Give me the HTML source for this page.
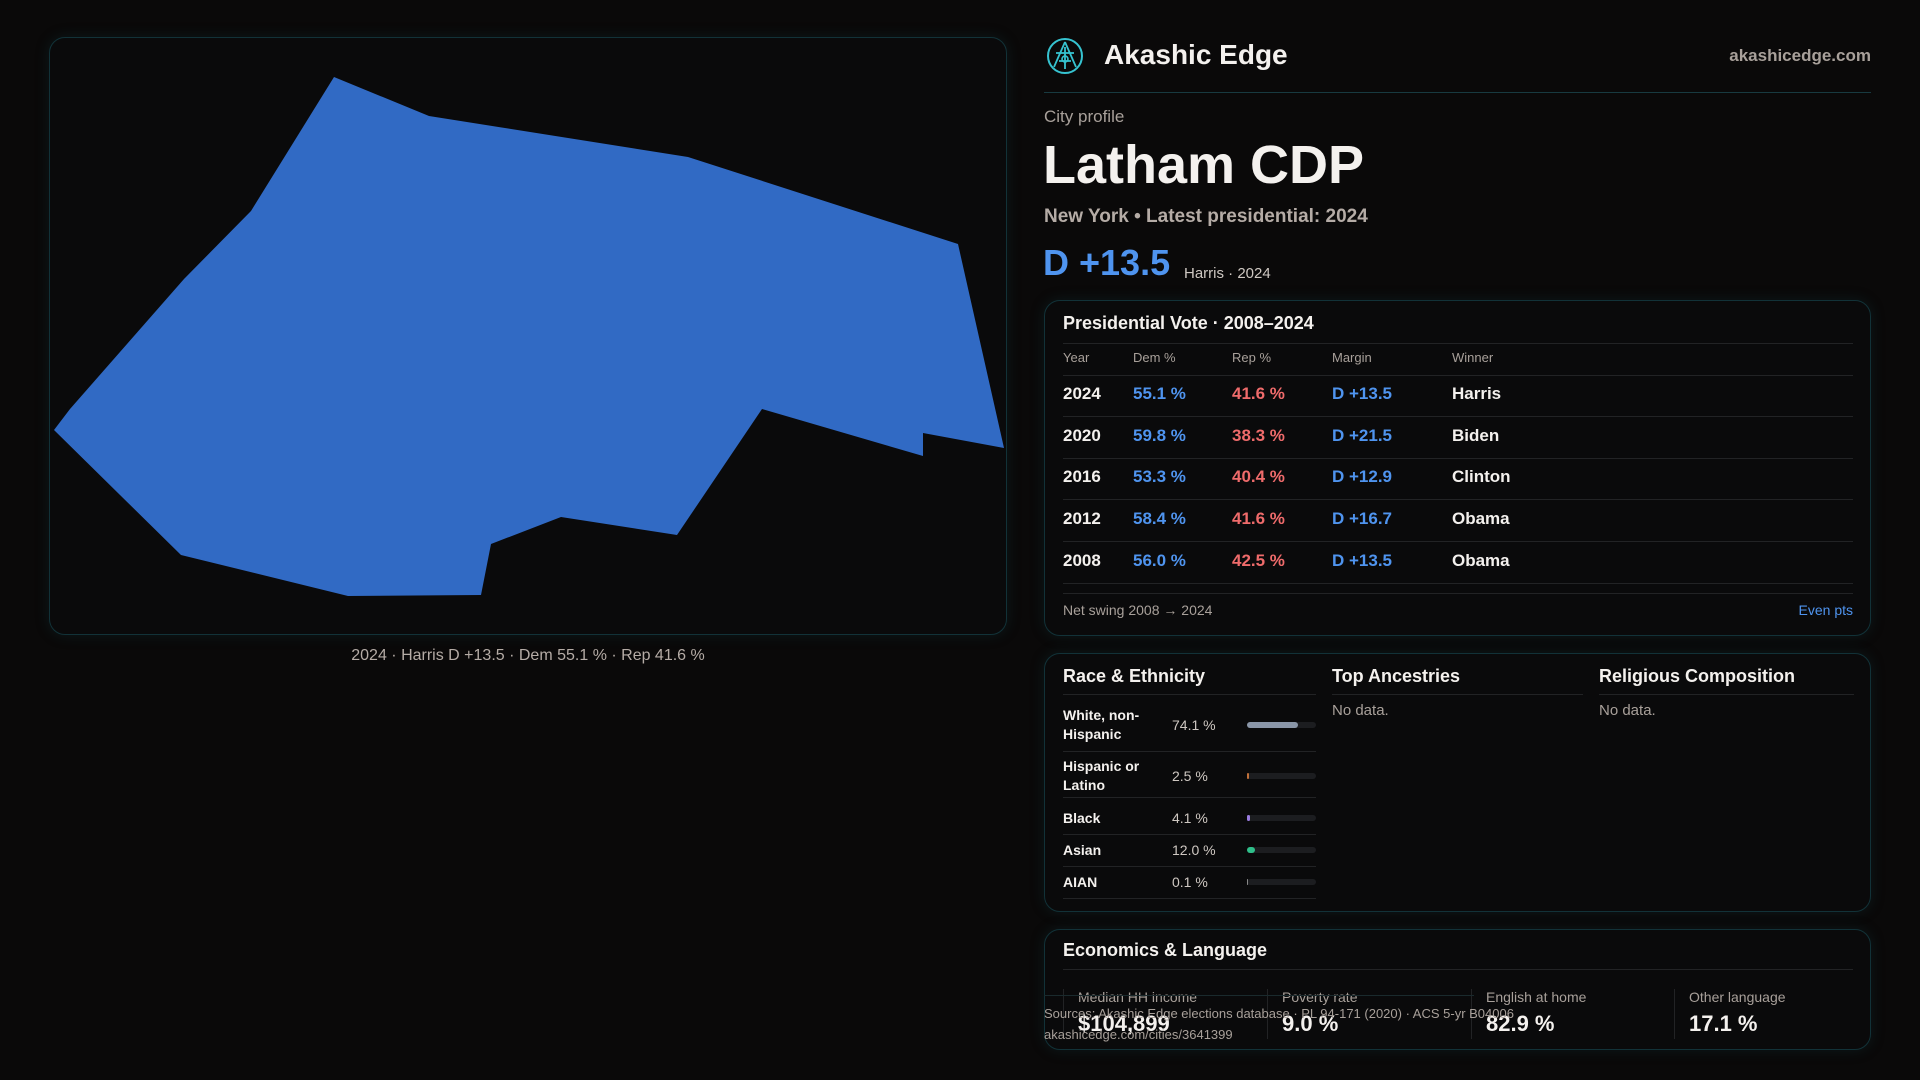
<!DOCTYPE html>
<html><head><meta charset="utf-8"><style>
*{margin:0;padding:0;box-sizing:border-box}
body{width:1920px;height:1080px;background:#0a0909;font-family:"Liberation Sans",sans-serif;color:#f4f1ee;position:relative;overflow:hidden}
.abs{position:absolute;white-space:nowrap}
.card{position:absolute;border:1.5px solid #123238;border-radius:16px;background:#0a0a0b;box-shadow:0 0 14px rgba(20,70,80,0.25)}
.grey{color:#a8a09a}
.line{position:absolute;height:1px;background:#222325}
.blue{color:#4f94ef}.red{color:#ef6b6b}
</style></head><body>
<div class="card" style="left:49px;top:37px;width:958px;height:598px">
<svg width="958" height="598" style="position:absolute;left:-1px;top:-1px">
<polygon fill="#316ac4" points="285,40 380,79 639,120 909,207 955,411 874,396 874,419 713,372 628,498 512,480 442,507 432,558 299,559 132,518 5,393 21,372 135,242 202,174"/>
</svg></div>
<div class="abs grey" style="left:0;width:1056px;text-align:center;top:647px;font-size:16px;color:#b5aca6">2024 · Harris D +13.5 · Dem 55.1 % · Rep 41.6 %</div>

<svg class="abs" style="left:1046px;top:37px" width="38" height="38" viewBox="0 0 38 38"><circle cx="19" cy="19" r="17" fill="none" stroke="#36c3d0" stroke-width="2"/><path d="M19 5 L8 30 M19 5 L30 30 M19 10 V32 M10 16 H28 M13 24 L25 24" stroke="#36c3d0" stroke-width="1.8" fill="none"/><circle cx="19" cy="22" r="3" fill="none" stroke="#36c3d0" stroke-width="1.6"/></svg>
<div class="abs" style="left:1104px;top:39px;font-size:28px;font-weight:bold">Akashic Edge</div>
<div class="abs grey" style="right:49px;top:46px;font-size:17px;font-weight:bold">akashicedge.com</div>
<div class="line" style="left:1044px;width:827px;top:92px;background:#183a40"></div>
<div class="abs grey" style="left:1044px;top:107px;font-size:17px">City profile</div>
<div class="abs" style="left:1043px;top:134px;font-size:54px;font-weight:bold">Latham CDP</div>
<div class="abs" style="left:1044px;top:206px;font-size:19px;color:#b5aca6;font-weight:bold">New York • Latest presidential: 2024</div>
<div class="abs blue" style="left:1043px;top:242px;font-size:36px;font-weight:bold">D +13.5</div>
<div class="abs" style="left:1184px;top:265px;font-size:15px;color:#cfc8c2">Harris · 2024</div>

<div class="card" style="left:1044px;top:300px;width:827px;height:336px"></div>
<div class="abs" style="left:1063px;top:313px;font-size:18px;font-weight:bold">Presidential Vote · 2008–2024</div>
<div class="line" style="left:1063px;width:790px;top:343px"></div>
<div id="vote"></div>
<div class="abs grey" style="left:1063px;top:602px;font-size:14px">Net swing 2008 → 2024</div>
<div class="abs blue" style="right:67px;top:602px;font-size:14px">Even pts</div>

<div class="card" style="left:1044px;top:653px;width:827px;height:259px"></div>
<div class="abs" style="left:1063px;top:666px;font-size:18px;font-weight:bold">Race &amp; Ethnicity</div>
<div class="line" style="left:1063px;width:253px;top:694px"></div>
<div class="abs" style="left:1332px;top:666px;font-size:18px;font-weight:bold">Top Ancestries</div>
<div class="line" style="left:1332px;width:251px;top:694px"></div>
<div class="abs grey" style="left:1332px;top:702px;font-size:15px">No data.</div>
<div class="abs" style="left:1599px;top:666px;font-size:18px;font-weight:bold">Religious Composition</div>
<div class="line" style="left:1599px;width:255px;top:694px"></div>
<div class="abs grey" style="left:1599px;top:702px;font-size:15px">No data.</div>
<div id="race"></div>

<div class="card" style="left:1044px;top:929px;width:827px;height:121px"></div>
<div class="abs" style="left:1063px;top:940px;font-size:18px;font-weight:bold">Economics &amp; Language</div>
<div class="line" style="left:1063px;width:790px;top:969px"></div>
<div id="econ"></div>
<div class="line" style="left:1044px;width:430px;top:995px;background:#1a2a2d"></div>
<div class="abs grey" style="left:1044px;top:1006px;font-size:13px">Sources: Akashic Edge elections database · PL 94-171 (2020) · ACS 5-yr B04006</div>
<div class="abs grey" style="left:1044px;top:1027px;font-size:13px">akashicedge.com/cities/3641399</div>

<script>
const years=["2024","2020","2016","2012","2008"];
const demPct=[55.1,59.8,53.3,58.4,56.0];
const repPct=[41.6,38.3,40.4,41.6,42.5];
const margins=["D +13.5","D +21.5","D +12.9","D +16.7","D +13.5"];
const winners=["Harris","Biden","Clinton","Obama","Obama"];
const raceLabels=["White, non-Hispanic","Hispanic or Latino","Black","Asian","AIAN"];
const raceValues=[74.1,2.5,4.1,12.0,0.1];
const raceColors=["#8a96a8","#c0703a","#9a7ce0","#2fbf8a","#888"];
const econLabels=["Median HH income","Poverty rate","English at home","Other language"];
const econValues=["$104,899","9.0 %","82.9 %","17.1 %"];

function mk(parent,cls,style,text){const d=document.createElement('div');d.className=cls;d.style.cssText=style;if(text!==undefined)d.textContent=text;parent.appendChild(d);return d;}
const vote=document.getElementById('vote');
const cols=[1063,1133,1232,1332,1452];
["Year","Dem %","Rep %","Margin","Winner"].forEach((h,i)=>{const e=mk(vote,'abs grey',`left:${cols[i]}px;top:350px;font-size:13px`,h);

});
const line0=mk(vote,'line','left:1063px;width:790px;top:375px');


const rowY=i=>394+i*41.7;
years.forEach((y,i)=>{
 const vals=[y,demPct[i].toFixed(1)+" %",repPct[i].toFixed(1)+" %",margins[i],winners[i]];
 const cl=["","blue","red","blue",""];
 vals.forEach((v,j)=>{const e=mk(vote,'abs '+cl[j],`left:${cols[j]}px;top:${rowY(i)-10}px;font-size:17px;font-weight:bold`,v);
 
 });
 const l=mk(vote,'line',`left:1063px;width:790px;top:${rowY(i)+22}px`);
 
 
});
const l2=mk(vote,'line','left:1063px;width:790px;top:593px');



const race=document.getElementById('race');
const rY=[725,776,818,850,882];
const barX=1247,barW=69;
raceLabels.forEach((lab,i)=>{
 const t=mk(race,'abs',`left:1063px;top:${rY[i]-(lab.length>12?19:9)}px;font-size:14px;font-weight:bold;white-space:normal;width:95px;line-height:19px`,lab);
 
 
 const p=mk(race,'abs',`left:1172px;top:${rY[i]-8}px;font-size:14px;color:#cfc8c2`,raceValues[i].toFixed(1)+" %");
 
 
 const tr=mk(race,'abs',`left:${barX}px;top:${rY[i]-3}px;width:${barW}px;height:6px;border-radius:3px;background:#1c1d20`);
 
 
 const b=mk(race,'abs',`left:${barX}px;top:${rY[i]-3}px;width:${Math.max(1,barW*raceValues[i]/100)}px;height:6px;border-radius:3px;background:${raceColors[i]}`);
 
 
 if(i<4){const l=mk(race,'line',`left:1063px;width:253px;top:${(rY[i]+rY[i+1])/2}px`);
 
 }
});
const l3=mk(race,'line','left:1063px;width:253px;top:898px');



const econ=document.getElementById('econ');
const ex=[1063,1267,1471,1674];
econLabels.forEach((lab,i)=>{
 const s=mk(econ,'abs',`left:${ex[i]}px;top:989px;width:1px;height:50px;background:#222325`);
 
 
 const a=mk(econ,'abs grey',`left:${ex[i]+15}px;top:989px;font-size:14px`,lab);
 
 
 const v=mk(econ,'abs',`left:${ex[i]+15}px;top:1011px;font-size:22px;font-weight:bold`,econValues[i]);
 
 
});
</script>
</body></html>
